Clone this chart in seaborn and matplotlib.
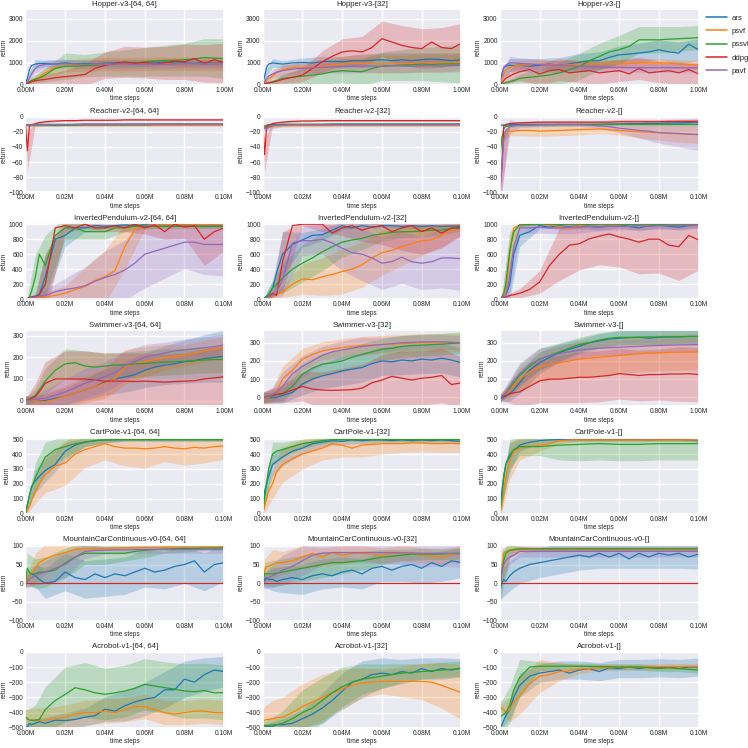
import numpy as np
import pandas as pd
import seaborn as sns
import matplotlib
matplotlib.use('Agg')
import matplotlib.pyplot as plt
from matplotlib.lines import Line2D
from matplotlib.ticker import FuncFormatter, MultipleLocator

sns.set_theme(style='darkgrid')
plt.rcParams['font.family'] = ['Liberation Sans', 'DejaVu Sans']

ALGOS = ['ars', 'psvf', 'pssvf', 'ddpg', 'pavf']
COLORS = dict(zip(ALGOS, ['#1f77b4', '#ff7f0e', '#2ca02c', '#d62728', '#9467bd']))

# fraction of the run where the mean curves were read
FRAC = [0, .01, .02, .03, .05, .07, .1, .15, .2, .25, .3, .35, .4, .45, .5,
        .55, .6, .65, .7, .75, .8, .85, .9, .95, 1.0]
# fraction where the band half-width was read
BAND_FRAC = [0, .01, .05, .1, .2, .3, .4, .5, .6, .7, .8, .9, 1.0]

# ---------------- Hopper ----------------
hopper_64 = {
    'ars':   [100, 300, 700, 880, 950, 980, 970, 950, 1000, 960, 980, 950, 990, 1000, 970, 1020, 980, 1000, 1050, 990, 1000, 980, 1020, 990, 1000],
    'psvf':  [50, 80, 120, 180, 280, 350, 550, 800, 850, 900, 920, 930, 950, 960, 940, 960, 950, 970, 960, 950, 960, 940, 950, 960, 950],
    'pssvf': [80, 120, 150, 200, 260, 320, 450, 750, 850, 850, 880, 900, 950, 960, 1000, 1000, 1050, 1080, 1100, 1120, 1150, 1180, 1250, 1220, 1200],
    'ddpg':  [50, 70, 100, 150, 200, 220, 250, 330, 380, 420, 480, 750, 900, 980, 1050, 980, 1020, 950, 1000, 1080, 1050, 1200, 980, 1150, 1000],
    'pavf':  [50, 150, 300, 500, 750, 880, 930, 950, 960, 950, 940, 950, 940, 950, 950, 930, 940, 950, 940, 950, 960, 950, 940, 950, 950],
}
hopper_64_sd = {
    'ars':   [50, 100, 200, 150, 150, 150, 150, 150, 150, 150, 150, 150, 150],
    'psvf':  [30, 50, 150, 200, 250, 300, 300, 300, 300, 300, 300, 300, 300],
    'pssvf': [50, 80, 200, 300, 600, 500, 550, 600, 650, 700, 750, 850, 900],
    'ddpg':  [30, 50, 100, 200, 300, 500, 600, 700, 700, 750, 800, 850, 900],
    'pavf':  [30, 100, 200, 200, 200, 200, 200, 200, 200, 200, 200, 200, 200],
}
hopper_32 = {
    'ars':   [50, 400, 800, 950, 1000, 980, 950, 1000, 1020, 1000, 1050, 1080, 1050, 1100, 1100, 1120, 1150, 1100, 1150, 1100, 1150, 1180, 1150, 1100, 1150],
    'psvf':  [50, 100, 200, 300, 400, 550, 700, 780, 800, 820, 850, 900, 950, 980, 1000, 970, 950, 980, 950, 980, 1000, 980, 1000, 1020, 1050],
    'pssvf': [50, 60, 80, 100, 150, 200, 300, 350, 400, 450, 500, 600, 650, 620, 600, 750, 850, 880, 900, 920, 950, 930, 950, 960, 950],
    'ddpg':  [50, 60, 80, 100, 120, 170, 250, 350, 450, 750, 1050, 1300, 1500, 1550, 1500, 1700, 2100, 1950, 1800, 1700, 1650, 1950, 1700, 1650, 1900],
    'pavf':  [50, 150, 300, 400, 500, 580, 650, 720, 750, 780, 800, 820, 830, 850, 850, 860, 850, 870, 860, 850, 870, 880, 860, 880, 900],
}
hopper_32_sd = {
    'ars':   [30, 150, 200, 150, 200, 250, 250, 300, 300, 300, 300, 300, 300],
    'psvf':  [30, 50, 150, 200, 250, 300, 350, 400, 400, 400, 400, 400, 400],
    'pssvf': [30, 50, 100, 200, 350, 450, 550, 600, 650, 700, 750, 800, 850],
    'ddpg':  [30, 50, 80, 200, 300, 500, 600, 700, 800, 900, 900, 900, 900],
    'pavf':  [30, 100, 200, 250, 250, 250, 300, 300, 300, 300, 300, 300, 300],
}
hopper_0 = {
    'ars':   [50, 500, 800, 850, 900, 880, 900, 850, 900, 950, 900, 950, 1030, 1100, 1100, 1250, 1370, 1400, 1450, 1500, 1600, 1500, 1450, 1850, 1600],
    'psvf':  [50, 200, 500, 700, 800, 850, 900, 920, 950, 930, 900, 920, 950, 960, 950, 960, 950, 970, 1000, 1000, 1000, 990, 950, 930, 900],
    'pssvf': [50, 60, 80, 100, 150, 200, 300, 350, 400, 450, 550, 700, 830, 1100, 1290, 1500, 1600, 1750, 2050, 2050, 2050, 2080, 2100, 2120, 2150],
    'ddpg':  [50, 100, 200, 300, 400, 500, 600, 700, 500, 650, 700, 550, 600, 650, 550, 600, 650, 500, 750, 550, 600, 650, 550, 700, 500],
    'pavf':  [50, 400, 800, 900, 1000, 1000, 980, 950, 920, 900, 900, 880, 850, 830, 820, 800, 800, 790, 780, 780, 780, 780, 780, 780, 780],
}
hopper_0_sd = {
    'ars':   [30, 200, 300, 300, 300, 350, 400, 400, 400, 450, 450, 500, 500],
    'psvf':  [30, 100, 200, 200, 200, 200, 200, 200, 200, 200, 200, 200, 200],
    'pssvf': [30, 50, 100, 200, 300, 500, 600, 600, 650, 600, 600, 550, 550],
    'ddpg':  [30, 100, 300, 400, 500, 500, 500, 500, 500, 500, 500, 500, 500],
    'pavf':  [30, 200, 300, 250, 250, 200, 200, 200, 200, 200, 200, 200, 200],
}

# ---------------- Reacher ----------------
reacher_64 = {
    'ars':   [-10, -10.5, -11, -11, -10.5, -10, -10, -10, -10, -10, -9.5, -9.5, -9.5, -9.5, -9.5, -9.5, -9.5, -9.5, -9.5, -9.5, -9.5, -9.5, -9.5, -9.5, -9.5],
    'psvf':  [-11, -11, -11.5, -11.5, -11, -11, -11, -11, -11, -11, -11, -11, -11, -11, -11, -11, -11, -11, -11, -11, -11, -11, -11, -11, -11],
    'pssvf': [-10, -10.5, -11, -11, -11, -11, -11, -11.5, -11, -11, -10.5, -10.5, -10.5, -10.5, -10.5, -10.5, -10.5, -10, -10, -10, -10, -10, -10, -10, -10],
    'ddpg':  [-10, -45, -12, -10.5, -9, -7.5, -6.5, -5.5, -5, -5, -4.5, -4.5, -4.5, -4.5, -4, -4, -4, -4, -4, -4, -4, -4, -4, -4, -4],
    'pavf':  [-10, -11, -11, -11, -10.5, -10.5, -10.5, -10.5, -10.5, -10, -10, -10, -10, -10, -10, -10, -10, -10, -10, -10, -10, -10, -10, -10, -10],
}
reacher_64_sd = {
    'ars':   [1, 1, 1, 1, 1, 1, 1, 1, 1, 1, 1, 1, 1],
    'psvf':  [2, 2, 2, 2, 2, 2, 2, 2, 2, 2, 2, 2, 2],
    'pssvf': [1.5, 1.5, 1.5, 1.5, 1.5, 1.5, 1.5, 1.5, 1.5, 1.5, 1.5, 1.5, 1.5],
    'ddpg':  [1, 25, 1.5, 1, 1, 1, 1, 1, 1, 1, 1, 1, 1],
    'pavf':  [1, 1, 1, 1, 1, 1, 1, 1, 1, 1, 1, 1, 1],
}
reacher_32 = {
    'ars':   [-12, -12, -11, -11, -10.5, -10.5, -10, -10, -10, -10, -10, -9.5, -9.5, -9.5, -9.5, -9.5, -9.5, -9.5, -9.5, -9.5, -9.5, -9.5, -9.5, -9.5, -9.5],
    'psvf':  [-11, -12, -12, -12, -12, -12, -11.5, -11.5, -11.5, -11.5, -11.5, -11.5, -11, -11, -11, -11, -11, -11, -11, -11, -11, -11, -11, -11, -11],
    'pssvf': [-13, -14, -12, -11, -10.5, -10.5, -10, -10, -10, -10, -10, -10, -10, -10, -10, -10, -10, -10, -10, -10, -10, -10, -10, -10, -10],
    'ddpg':  [-10, -50, -14, -11, -9, -8, -7, -6, -5.5, -5.5, -5, -5, -5, -5, -5, -5, -5, -5, -5, -5, -5, -5, -5, -5, -5],
    'pavf':  [-12, -15, -16, -14, -12, -11, -11, -10.5, -10.5, -10.5, -10.5, -10.5, -10.5, -10.5, -10.5, -10.5, -10.5, -10.5, -10.5, -10.5, -10.5, -10.5, -10.5, -10.5, -10.5],
}
reacher_32_sd = {
    'ars':   [1, 1, 1, 1, 1, 1, 1, 1, 1, 1, 1, 1, 1],
    'psvf':  [2, 2, 2, 2, 2, 2, 2, 2, 2, 2, 2, 2, 2],
    'pssvf': [2, 3, 1.5, 1.5, 1.5, 1.5, 1.5, 1.5, 1.5, 1.5, 1.5, 1.5, 1.5],
    'ddpg':  [1, 22, 2, 1, 1, 1, 1, 1, 1, 1, 1, 1, 1],
    'pavf':  [2, 5, 4, 2, 1.5, 1.5, 1.5, 1.5, 1.5, 1.5, 1.5, 1.5, 1.5],
}
reacher_0 = {
    'ars':   [-11, -11, -11, -11, -10.5, -10.5, -10, -10, -10, -10, -10, -10, -10, -10, -10, -9.5, -9.5, -9, -9, -8.5, -8.5, -8, -8, -7.5, -7],
    'psvf':  [-30, -28, -22, -20, -19, -19, -18, -18, -19, -18.5, -18, -17.5, -17, -16.5, -16, -17, -18, -19, -20, -20.5, -21, -22, -22.5, -23, -23.5],
    'pssvf': [-50, -30, -15, -13, -12, -11.5, -11, -11, -10.5, -10.5, -10.5, -10.5, -10, -10, -10, -10, -10, -10, -10, -10, -10, -10, -10, -10, -10],
    'ddpg':  [-100, -68, -12, -10, -9, -8.5, -8, -7.5, -7, -7, -7, -7, -7, -7, -7, -7, -6.5, -6.5, -6.5, -6.5, -6.5, -6, -6, -6, -6],
    'pavf':  [-90, -68, -30, -18, -13, -12, -11, -11, -10.5, -10.5, -10, -10, -10.5, -11, -12, -13, -15, -16.5, -18, -19, -21, -21.5, -22, -23, -23.5],
}
reacher_0_sd = {
    'ars':   [1, 1, 1, 1, 1, 1, 1, 1, 1, 1, 1, 1, 1],
    'psvf':  [3, 5, 6, 7, 7, 7, 7, 6, 6, 8, 10, 11, 12],
    'pssvf': [10, 8, 2, 2, 2, 2, 2, 2, 2, 2, 2, 2, 2],
    'ddpg':  [5, 30, 2, 2, 2, 2, 2, 2, 3, 3, 3, 3, 3],
    'pavf':  [10, 30, 10, 3, 3, 2, 2, 3, 6, 10, 14, 18, 21],
}

# ---------------- InvertedPendulum ----------------
pend_64 = {
    'ars':   [0, 10, 20, 30, 40, 60, 300, 800, 850, 950, 950, 980, 970, 980, 990, 980, 990, 980, 985, 980, 990, 985, 980, 985, 980],
    'psvf':  [0, 5, 10, 15, 20, 25, 35, 50, 80, 130, 170, 250, 300, 380, 700, 930, 970, 985, 990, 990, 990, 990, 990, 990, 990],
    'pssvf': [0, 10, 30, 100, 300, 600, 450, 850, 950, 950, 900, 900, 900, 950, 950, 970, 970, 970, 970, 970, 970, 970, 970, 970, 970],
    'ddpg':  [0, 10, 20, 30, 30, 60, 200, 950, 980, 950, 1000, 950, 950, 980, 950, 1000, 950, 990, 900, 1000, 960, 980, 800, 900, 950],
    'pavf':  [0, 5, 10, 20, 30, 40, 50, 100, 130, 150, 180, 240, 290, 330, 390, 480, 600, 640, 680, 720, 760, 760, 730, 730, 730],
}
pend_64_sd = {
    'ars':   [5, 10, 40, 300, 150, 50, 30, 20, 20, 20, 20, 20, 20],
    'psvf':  [5, 5, 20, 50, 100, 250, 350, 300, 40, 20, 20, 20, 20],
    'pssvf': [5, 20, 300, 400, 150, 100, 100, 50, 30, 30, 30, 30, 30],
    'ddpg':  [5, 10, 30, 400, 100, 50, 50, 50, 80, 100, 150, 350, 300],
    'pavf':  [5, 5, 30, 80, 150, 250, 350, 400, 450, 400, 350, 400, 420],
}
pend_32 = {
    'ars':   [0, 20, 40, 60, 150, 350, 600, 730, 790, 850, 860, 920, 980, 950, 980, 960, 980, 980, 970, 980, 970, 980, 970, 975, 970],
    'psvf':  [0, 5, 10, 15, 30, 60, 100, 200, 270, 260, 300, 330, 370, 400, 460, 550, 620, 650, 700, 740, 780, 790, 850, 920, 960],
    'pssvf': [0, 20, 40, 60, 150, 200, 280, 400, 480, 550, 630, 700, 760, 790, 810, 850, 870, 890, 900, 900, 910, 920, 920, 940, 960],
    'ddpg':  [0, 10, 20, 30, 80, 50, 500, 980, 1000, 1000, 1000, 880, 950, 980, 920, 960, 980, 900, 950, 980, 900, 950, 880, 950, 950],
    'pavf':  [0, 10, 20, 30, 50, 100, 250, 750, 780, 780, 800, 750, 680, 620, 600, 550, 480, 500, 560, 500, 480, 500, 550, 550, 540],
}
pend_32_sd = {
    'ars':   [5, 20, 100, 300, 100, 80, 50, 30, 30, 30, 30, 30, 30],
    'psvf':  [5, 5, 30, 80, 200, 250, 300, 300, 300, 250, 200, 150, 100],
    'pssvf': [5, 20, 100, 200, 250, 250, 200, 150, 100, 80, 80, 60, 50],
    'ddpg':  [5, 10, 50, 400, 20, 100, 100, 150, 250, 300, 300, 200, 100],
    'pavf':  [5, 10, 50, 200, 200, 200, 300, 350, 350, 350, 350, 400, 420],
}
pend_0 = {
    'ars':   [0, 10, 30, 50, 200, 600, 850, 900, 980, 960, 980, 960, 980, 970, 960, 980, 990, 970, 950, 980, 990, 970, 960, 980, 990],
    'psvf':  [0, 20, 50, 100, 600, 950, 990, 1000, 1000, 990, 970, 950, 980, 1000, 1000, 990, 990, 1000, 1000, 990, 1000, 990, 990, 990, 990],
    'pssvf': [0, 30, 80, 200, 650, 900, 990, 995, 1000, 1000, 995, 1000, 1000, 995, 1000, 1000, 1000, 995, 1000, 1000, 995, 1000, 1000, 1000, 1000],
    'ddpg':  [0, 20, 30, 30, 50, 60, 80, 130, 230, 450, 600, 720, 740, 805, 840, 870, 830, 800, 760, 800, 800, 720, 700, 850, 790],
    'pavf':  [0, 10, 30, 50, 300, 700, 950, 950, 960, 950, 950, 960, 960, 970, 960, 970, 970, 970, 980, 970, 980, 980, 980, 985, 990],
}
pend_0_sd = {
    'ars':   [5, 10, 200, 150, 40, 40, 40, 40, 40, 40, 40, 40, 40],
    'psvf':  [5, 20, 250, 20, 20, 50, 40, 20, 20, 20, 20, 20, 20],
    'pssvf': [5, 30, 250, 20, 10, 10, 10, 10, 10, 10, 10, 10, 10],
    'ddpg':  [5, 10, 30, 60, 150, 350, 350, 380, 400, 420, 450, 450, 400],
    'pavf':  [5, 10, 200, 80, 80, 80, 80, 50, 50, 50, 50, 50, 30],
}

# ---------------- Swimmer ----------------
swim_64 = {
    'ars':   [0, 0, -2, -4, -5, -3, 0, 10, 20, 35, 50, 65, 86, 100, 109, 120, 140, 155, 164, 170, 180, 185, 195, 200, 205],
    'psvf':  [0, 0, -2, -3, -5, -6, -5, 5, 20, 35, 50, 65, 80, 101, 156, 170, 180, 190, 200, 205, 210, 220, 230, 240, 245],
    'pssvf': [0, 3, 8, 12, 25, 50, 90, 140, 170, 175, 160, 155, 160, 165, 165, 170, 172, 175, 178, 180, 182, 185, 188, 190, 190],
    'ddpg':  [0, 2, 5, 10, 20, 40, 80, 100, 100, 100, 100, 95, 90, 90, 90, 88, 90, 88, 85, 88, 90, 92, 100, 105, 110],
    'pavf':  [0, 0, 2, 3, 5, 8, 10, 25, 40, 60, 80, 95, 110, 130, 160, 180, 200, 210, 220, 230, 235, 240, 245, 250, 258],
}
swim_64_sd = {
    'ars':   [20, 20, 25, 30, 40, 50, 60, 70, 80, 90, 100, 110, 120],
    'psvf':  [20, 20, 30, 40, 50, 60, 70, 80, 70, 60, 50, 50, 50],
    'pssvf': [20, 20, 30, 60, 70, 70, 60, 60, 60, 60, 60, 60, 60],
    'ddpg':  [20, 20, 60, 100, 130, 130, 130, 130, 130, 130, 130, 140, 150],
    'pavf':  [20, 20, 20, 40, 60, 70, 70, 70, 60, 50, 50, 50, 50],
}
swim_32 = {
    'ars':   [-5, -5, -4, -3, -2, 0, 10, 27, 73, 100, 118, 130, 145, 155, 164, 185, 200, 195, 205, 200, 210, 205, 215, 205, 190],
    'psvf':  [-5, -5, -3, 0, 10, 30, 100, 150, 209, 235, 255, 265, 273, 280, 285, 288, 291, 293, 295, 298, 300, 300, 300, 300, 300],
    'pssvf': [0, 0, 2, 5, 10, 15, 20, 60, 127, 160, 182, 190, 200, 220, 236, 250, 264, 270, 280, 285, 287, 290, 292, 296, 300],
    'ddpg':  [0, 2, 5, 8, 10, 15, 20, 40, 60, 45, 40, 38, 40, 42, 50, 80, 95, 115, 105, 95, 105, 110, 120, 70, 80],
    'pavf':  [0, 2, 5, 8, 15, 30, 60, 130, 170, 200, 230, 250, 260, 270, 280, 285, 290, 295, 300, 302, 305, 305, 305, 303, 300],
}
swim_32_sd = {
    'ars':   [30, 30, 30, 40, 60, 70, 80, 80, 80, 80, 80, 80, 80],
    'psvf':  [30, 30, 40, 70, 60, 50, 50, 50, 50, 50, 50, 50, 50],
    'pssvf': [30, 30, 30, 40, 60, 60, 60, 60, 60, 60, 60, 60, 60],
    'ddpg':  [30, 30, 40, 50, 80, 100, 120, 130, 140, 150, 150, 150, 140],
    'pavf':  [30, 30, 40, 80, 60, 50, 50, 50, 40, 40, 40, 40, 40],
}
swim_0 = {
    'ars':   [-10, -5, 0, 5, 20, 40, 80, 150, 190, 220, 245, 265, 280, 300, 310, 320, 325, 328, 330, 325, 330, 332, 333, 335, 335],
    'psvf':  [0, 5, 10, 20, 40, 65, 100, 140, 170, 180, 190, 200, 210, 215, 220, 225, 230, 235, 240, 243, 245, 247, 248, 249, 250],
    'pssvf': [0, 5, 12, 25, 50, 80, 120, 170, 210, 230, 250, 270, 290, 300, 315, 325, 330, 330, 330, 332, 332, 333, 333, 334, 335],
    'ddpg':  [0, 3, 6, 10, 20, 25, 30, 60, 90, 100, 100, 105, 110, 110, 115, 120, 130, 125, 120, 125, 125, 128, 128, 130, 125],
    'pavf':  [0, 5, 12, 25, 60, 95, 130, 180, 210, 230, 240, 250, 260, 265, 270, 273, 275, 278, 280, 283, 285, 287, 288, 289, 290],
}
swim_0_sd = {
    'ars':   [20, 20, 40, 60, 60, 50, 40, 40, 40, 40, 40, 40, 40],
    'psvf':  [20, 20, 40, 60, 80, 90, 100, 100, 100, 100, 100, 100, 100],
    'pssvf': [20, 20, 40, 60, 60, 50, 40, 40, 40, 40, 40, 40, 40],
    'ddpg':  [20, 20, 50, 80, 120, 130, 140, 140, 140, 140, 140, 150, 150],
    'pavf':  [20, 20, 40, 60, 60, 50, 45, 40, 40, 40, 40, 40, 40],
}

# ---------------- CartPole ----------------
cart_64 = {
    'ars':   [0, 60, 120, 180, 220, 250, 290, 330, 420, 460, 480, 490, 495, 495, 497, 497, 497, 497, 497, 497, 497, 497, 497, 497, 497],
    'psvf':  [0, 20, 50, 90, 150, 200, 260, 320, 340, 400, 430, 450, 470, 450, 440, 440, 435, 440, 450, 440, 435, 445, 440, 450, 455],
    'pssvf': [0, 60, 120, 170, 240, 300, 380, 430, 450, 470, 480, 490, 495, 497, 497, 497, 497, 497, 497, 497, 497, 497, 497, 497, 497],
}
cart_64_sd = {
    'ars':   [5, 30, 80, 80, 60, 30, 20, 10, 10, 10, 10, 10, 10],
    'psvf':  [5, 20, 80, 120, 150, 120, 110, 120, 130, 100, 110, 100, 90],
    'pssvf': [5, 30, 100, 100, 70, 30, 20, 10, 10, 10, 10, 10, 10],
}
cart_32 = {
    'ars':   [0, 150, 200, 250, 330, 350, 380, 420, 440, 470, 480, 490, 485, 495, 490, 495, 495, 490, 495, 490, 495, 490, 495, 490, 485],
    'psvf':  [0, 50, 100, 150, 200, 280, 330, 370, 400, 420, 440, 470, 460, 440, 460, 465, 470, 470, 470, 475, 475, 470, 470, 472, 470],
    'pssvf': [0, 100, 200, 300, 400, 420, 430, 450, 470, 480, 490, 497, 497, 497, 497, 497, 497, 497, 497, 497, 497, 497, 497, 497, 497],
}
cart_32_sd = {
    'ars':   [5, 60, 80, 60, 40, 30, 20, 20, 20, 20, 20, 20, 20],
    'psvf':  [5, 40, 100, 120, 100, 80, 80, 80, 70, 60, 60, 60, 60],
    'pssvf': [5, 60, 80, 50, 30, 20, 10, 10, 10, 10, 10, 10, 10],
}
cart_0 = {
    'ars':   [0, 150, 250, 330, 380, 420, 460, 480, 490, 495, 497, 497, 497, 497, 497, 497, 497, 497, 497, 495, 497, 497, 497, 495, 490],
    'psvf':  [0, 50, 150, 250, 350, 420, 440, 450, 460, 470, 490, 495, 495, 495, 495, 495, 495, 495, 495, 495, 495, 495, 495, 495, 495],
    'pssvf': [0, 100, 250, 330, 400, 430, 450, 450, 450, 455, 460, 462, 465, 468, 470, 468, 465, 465, 465, 468, 470, 470, 470, 470, 470],
}
cart_0_sd = {
    'ars':   [5, 80, 100, 40, 20, 10, 10, 10, 10, 10, 10, 10, 10],
    'psvf':  [5, 40, 120, 80, 40, 20, 10, 10, 10, 10, 10, 10, 10],
    'pssvf': [5, 60, 100, 60, 60, 100, 110, 110, 110, 110, 110, 110, 110],
}

# ---------------- MountainCarContinuous ----------------
car_64 = {
    'ars':   [0, 10, 20, 25, 20, 10, 0, 5, 30, 15, 10, 25, 15, 25, 20, 30, 40, 30, 35, 45, 50, 60, 30, 50, 55],
    'psvf':  [0, 10, 20, 25, 40, 55, 65, 75, 82, 90, 92, 93, 93, 94, 94, 95, 95, 95, 96, 96, 96, 96, 97, 97, 97],
    'pssvf': [0, 40, 28, 25, 25, 30, 30, 35, 54, 70, 80, 80, 80, 80, 80, 85, 88, 90, 91, 92, 93, 93, 94, 94, 95],
    'ddpg':  [0, 0, 0, 0, 0, 0, 0, 0, 0, 0, 0, 0, 0, 0, 0, 0, 0, 0, 0, 0, 0, 0, 0, 0, 0],
    'pavf':  [0, 5, 10, 15, 20, 25, 30, 40, 50, 70, 85, 88, 88, 89, 89, 90, 90, 90, 90, 90, 90, 90, 90, 90, 90],
}
car_64_sd = {
    'ars':   [10, 20, 30, 40, 50, 50, 50, 50, 50, 50, 50, 50, 50],
    'psvf':  [10, 20, 40, 40, 30, 10, 5, 5, 5, 5, 5, 5, 5],
    'pssvf': [10, 40, 40, 40, 40, 30, 30, 20, 20, 10, 10, 5, 5],
    'ddpg':  [1.5, 1.5, 1.5, 1.5, 1.5, 1.5, 1.5, 1.5, 1.5, 1.5, 1.5, 1.5, 1.5],
    'pavf':  [10, 15, 25, 30, 35, 20, 10, 10, 10, 10, 10, 10, 10],
}
car_32 = {
    'ars':   [0, 10, 15, 10, 10, 5, 10, 15, 10, 20, 25, 20, 30, 35, 25, 40, 45, 35, 45, 50, 40, 55, 45, 60, 55],
    'psvf':  [0, 35, 45, 45, 50, 55, 55, 60, 70, 80, 70, 82, 75, 80, 80, 78, 75, 80, 80, 80, 75, 72, 70, 75, 82],
    'pssvf': [0, 25, 25, 25, 25, 27, 30, 35, 40, 45, 50, 55, 55, 58, 60, 65, 70, 72, 75, 78, 78, 78, 78, 80, 80],
    'ddpg':  [0, 0, 0, 0, 0, 0, 0, 0, 0, 0, 0, 0, 0, 0, 0, 0, 0, 0, 0, 0, 0, 0, 0, 0, 0],
    'pavf':  [0, 5, 10, 15, 20, 25, 35, 45, 60, 75, 80, 82, 82, 82, 82, 82, 82, 82, 81, 81, 80, 80, 80, 79, 78],
}
car_32_sd = {
    'ars':   [10, 20, 30, 35, 40, 40, 40, 40, 40, 40, 40, 40, 40],
    'psvf':  [10, 30, 40, 30, 30, 25, 25, 20, 20, 20, 20, 20, 20],
    'pssvf': [10, 30, 35, 35, 35, 35, 30, 25, 20, 15, 15, 15, 15],
    'ddpg':  [1.5, 1.5, 1.5, 1.5, 1.5, 1.5, 1.5, 1.5, 1.5, 1.5, 1.5, 1.5, 1.5],
    'pavf':  [10, 20, 30, 40, 40, 30, 25, 25, 30, 30, 35, 35, 35],
}
car_0 = {
    'ars':   [-20, 0, 10, 5, 20, 30, 40, 50, 55, 60, 65, 70, 75, 70, 80, 70, 80, 65, 80, 70, 80, 75, 80, 70, 78],
    'psvf':  [-20, 40, 80, 85, 88, 88, 90, 90, 90, 90, 90, 90, 90, 90, 90, 90, 90, 90, 90, 90, 90, 90, 90, 90, 90],
    'pssvf': [-20, 30, 60, 80, 88, 90, 92, 92, 92, 92, 92, 92, 92, 92, 92, 92, 92, 92, 92, 92, 92, 92, 92, 92, 92],
    'ddpg':  [0, 0, 0, 0, 0, 0, 0, 0, 0, 0, 0, 0, 0, 0, 0, 0, 0, 0, 0, 0, 0, 0, 0, 0, 0],
    'pavf':  [-10, 30, 50, 60, 70, 75, 85, 85, 85, 85, 85, 85, 85, 85, 85, 85, 85, 85, 85, 85, 85, 85, 85, 85, 85],
}
car_0_sd = {
    'ars':   [20, 40, 40, 40, 40, 40, 40, 40, 40, 40, 40, 40, 40],
    'psvf':  [20, 40, 20, 10, 5, 5, 5, 5, 5, 5, 5, 5, 5],
    'pssvf': [40, 60, 20, 5, 5, 5, 5, 5, 5, 5, 5, 5, 5],
    'ddpg':  [1.5, 1.5, 1.5, 1.5, 1.5, 1.5, 1.5, 1.5, 1.5, 1.5, 1.5, 1.5, 1.5],
    'pavf':  [20, 30, 20, 15, 15, 15, 15, 15, 15, 15, 15, 15, 15],
}

# ---------------- Acrobot ----------------
acro_64 = {
    'ars':   [-500, -490, -470, -480, -470, -460, -470, -450, -452, -445, -430, -420, -377, -390, -355, -330, -312, -300, -250, -250, -180, -200, -150, -120, -130],
    'psvf':  [-430, -440, -450, -450, -450, -450, -450, -440, -430, -410, -400, -400, -390, -400, -380, -360, -360, -380, -400, -410, -400, -390, -390, -400, -400],
    'pssvf': [-430, -440, -450, -450, -450, -445, -380, -320, -280, -236, -250, -270, -279, -270, -258, -240, -214, -225, -236, -245, -258, -262, -255, -270, -268],
}
acro_64_sd = {
    'ars':   [20, 20, 30, 40, 50, 60, 80, 100, 110, 120, 120, 110, 100],
    'psvf':  [50, 60, 80, 80, 80, 80, 80, 80, 80, 80, 80, 80, 80],
    'pssvf': [50, 60, 100, 150, 180, 180, 170, 170, 170, 170, 180, 180, 180],
}
acro_32 = {
    'ars':   [-500, -495, -490, -490, -490, -480, -480, -470, -440, -410, -370, -320, -260, -200, -180, -150, -140, -150, -130, -140, -110, -130, -110, -120, -106],
    'psvf':  [-450, -450, -445, -445, -440, -435, -430, -400, -360, -330, -300, -270, -245, -220, -205, -200, -195, -195, -195, -195, -195, -200, -220, -245, -268],
    'pssvf': [-480, -485, -485, -485, -480, -480, -470, -440, -400, -370, -320, -270, -230, -200, -180, -170, -160, -150, -140, -135, -130, -125, -120, -115, -110],
}
acro_32_sd = {
    'ars':   [20, 20, 30, 40, 60, 100, 120, 120, 100, 80, 70, 70, 60],
    'psvf':  [80, 90, 120, 130, 150, 150, 130, 100, 80, 100, 120, 150, 180],
    'pssvf': [20, 30, 50, 80, 150, 150, 130, 100, 80, 60, 50, 50, 50],
}
acro_0 = {
    'ars':   [-500, -480, -450, -420, -380, -300, -220, -160, -140, -130, -120, -140, -120, -110, -130, -105, -110, -100, -110, -100, -105, -100, -110, -100, -100],
    'psvf':  [-370, -370, -380, -400, -380, -330, -290, -210, -160, -150, -130, -125, -113, -110, -105, -103, -100, -100, -100, -98, -98, -97, -97, -96, -95],
    'pssvf': [-430, -420, -410, -400, -350, -250, -170, -100, -95, -95, -95, -95, -95, -96, -97, -98, -100, -100, -100, -105, -110, -105, -110, -115, -120],
}
acro_0_sd = {
    'ars':   [10, 20, 60, 80, 60, 60, 60, 60, 60, 60, 60, 60, 60],
    'psvf':  [20, 30, 80, 120, 110, 60, 30, 20, 20, 20, 20, 20, 20],
    'pssvf': [100, 100, 120, 120, 30, 20, 20, 20, 20, 20, 20, 20, 20],
}

# title, means, spreads, x max, y limits, y tick step
panels = [
    ('Hopper-v3-[64, 64]', hopper_64, hopper_64_sd, 1e6, (0, 3450), 1000),
    ('Hopper-v3-[32]', hopper_32, hopper_32_sd, 1e6, (0, 3450), 1000),
    ('Hopper-v3-[]', hopper_0, hopper_0_sd, 1e6, (0, 3450), 1000),
    ('Reacher-v2-[64, 64]', reacher_64, reacher_64_sd, 1e5, (-100, 1), 20),
    ('Reacher-v2-[32]', reacher_32, reacher_32_sd, 1e5, (-100, 1), 20),
    ('Reacher-v2-[]', reacher_0, reacher_0_sd, 1e5, (-100, 1), 20),
    ('InvertedPendulum-v2-[64, 64]', pend_64, pend_64_sd, 1e5, (0, 1012), 200),
    ('InvertedPendulum-v2-[32]', pend_32, pend_32_sd, 1e5, (0, 1012), 200),
    ('InvertedPendulum-v2-[]', pend_0, pend_0_sd, 1e5, (0, 1012), 200),
    ('Swimmer-v3-[64, 64]', swim_64, swim_64_sd, 1e6, (-27, 325), 100),
    ('Swimmer-v3-[32]', swim_32, swim_32_sd, 1e6, (-50, 368), 100),
    ('Swimmer-v3-[]', swim_0, swim_0_sd, 1e6, (-50, 368), 100),
    ('CartPole-v1-[64, 64]', cart_64, cart_64_sd, 1e5, (0, 511), 100),
    ('CartPole-v1-[32]', cart_32, cart_32_sd, 1e5, (0, 511), 100),
    ('CartPole-v1-[]', cart_0, cart_0_sd, 1e5, (0, 511), 100),
    ('MountainCarContinuous-v0-[64, 64]', car_64, car_64_sd, 1e5, (-100, 103), 50),
    ('MountainCarContinuous-v0-[32]', car_32, car_32_sd, 1e5, (-100, 103), 50),
    ('MountainCarContinuous-v0-[]', car_0, car_0_sd, 1e5, (-100, 103), 50),
    ('Acrobot-v1-[64, 64]', acro_64, acro_64_sd, 1e5, (-500, 0), 100),
    ('Acrobot-v1-[32]', acro_32, acro_32_sd, 1e5, (-500, 0), 100),
    ('Acrobot-v1-[]', acro_0, acro_0_sd, 1e5, (-500, 0), 100),
]

fig = plt.figure(figsize=(7.48, 7.48), dpi=100)
axes = fig.subplots(7, 3)
fig.subplots_adjust(left=0.034, right=0.934, top=0.988, bottom=0.027,
                    wspace=0.193, hspace=0.41)

band_idx = [FRAC.index(b) for b in BAND_FRAC]

for ax, (title, means, spreads, xmax, ylim, ystep) in zip(axes.flat, panels):
    rows = []
    for algo, vals in means.items():
        assert len(vals) == len(FRAC), (title, algo)
        for f, v in zip(FRAC, vals):
            rows.append((f * xmax, v, algo))
    df = pd.DataFrame(rows, columns=['step', 'ret', 'algo'])
    order = [a for a in ALGOS if a in means]
    sns.lineplot(data=df, x='step', y='ret', hue='algo', hue_order=order,
                 palette=COLORS, lw=0.9, legend=False, errorbar=None, ax=ax)
    for algo in order:
        assert len(spreads[algo]) == len(BAND_FRAC), (title, algo)
        m = np.array(means[algo], dtype=float)[band_idx]
        s = np.array(spreads[algo], dtype=float)
        ax.fill_between(np.array(BAND_FRAC) * xmax, m - s, m + s,
                        color=COLORS[algo], alpha=0.25, lw=0)

    ax.set_xlim(0, xmax)
    ax.set_ylim(*ylim)
    ax.xaxis.set_major_locator(MultipleLocator(xmax / 5))
    ax.xaxis.set_major_formatter(FuncFormatter(lambda v, p: f'{v / 1e6:.2f}M'))
    ax.yaxis.set_major_locator(MultipleLocator(ystep))
    ax.tick_params(labelsize=4.8, pad=1.5, length=0)
    ax.set_title(title, fontsize=5.6, pad=2.5)
    ax.set_xlabel('time steps', fontsize=4.7, labelpad=1)
    ax.set_ylabel('return', fontsize=4.7, labelpad=1)

handles = [Line2D([], [], color=COLORS[a], lw=1.1) for a in ALGOS]
fig.legend(handles, ALGOS, loc='upper left', bbox_to_anchor=(0.935, 0.99),
           frameon=False, fontsize=5.6, handlelength=2.6, labelspacing=0.75,
           handletextpad=0.6)

fig.savefig('out.png', dpi=100)
